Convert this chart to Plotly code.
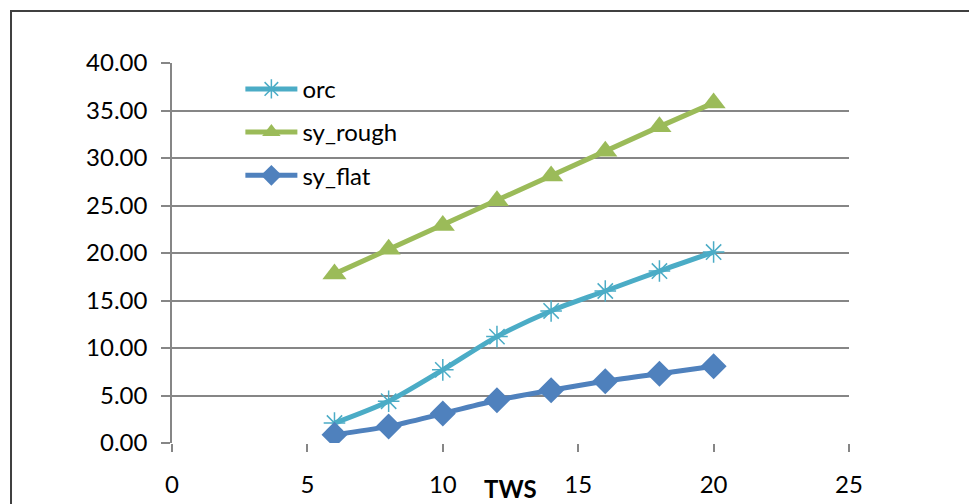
import plotly.graph_objects as go

tws = [6, 8, 10, 12, 14, 16, 18, 20]
orc = [2.1, 4.4, 7.7, 11.2, 13.9, 16.0, 18.1, 20.1]
sy_rough = [17.8, 20.4, 22.9, 25.5, 28.1, 30.7, 33.3, 35.8]
sy_flat = [0.87, 1.75, 3.1, 4.5, 5.55, 6.5, 7.3, 8.07]

x_ticks = [0, 5, 10, 15, 20, 25]
y_ticks = [0, 5, 10, 15, 20, 25, 30, 35, 40]
y_tick_labels = [f"{v:.2f}" for v in y_ticks]

FONT = "Lato, 'Open Sans', sans-serif"
GRID = "#868686"
FS = 24

fig = go.Figure()
fig.add_trace(go.Scatter(
    x=tws, y=orc, name="orc", mode="lines+markers", legendgroup="a",
    line=dict(color="#4BACC6", width=5, shape="spline", smoothing=0.8),
    marker=dict(symbol="asterisk", size=18, color="#4BACC6",
                line=dict(color="#4BACC6", width=1.5)),
))
fig.add_trace(go.Scatter(
    x=tws, y=sy_rough, name="sy_rough", mode="lines+markers", legendgroup="b",
    line=dict(color="#9BBB59", width=5),
    marker=dict(symbol="triangle-up", size=21, color="#9BBB59"),
))
fig.add_trace(go.Scatter(
    x=tws, y=sy_flat, name="sy_flat", mode="lines+markers", legendgroup="c",
    line=dict(color="#4F81BD", width=5, shape="spline", smoothing=0.8),
    marker=dict(symbol="diamond", size=20, color="#4F81BD"),
))

# page body adds an 8px offset; margins compensate so the plot area lands at x 172-849, y 63-443
fig.update_layout(
    width=977, height=504,
    margin=dict(l=164, r=136, t=55, b=69),
    paper_bgcolor="white", plot_bgcolor="white",
    font=dict(family=FONT, size=FS, color="#000000"),
    showlegend=True,
    legend=dict(
        x=0.101, y=0.99, xanchor="left", yanchor="top",
        bgcolor="rgba(0,0,0,0)", font=dict(size=FS, family=FONT),
        tracegroupgap=9, itemwidth=52,
    ),
    xaxis=dict(
        range=[0, 25], tickvals=x_ticks, ticktext=[str(v) for v in x_ticks],
        showgrid=False, zeroline=False,
        showline=False, ticks="outside", ticklen=8, tickcolor=GRID, tickwidth=1.5,
        ticklabelstandoff=12,
        tickfont=dict(size=FS, family=FONT),
    ),
    yaxis=dict(
        range=[0, 40], tickvals=y_ticks, ticktext=y_tick_labels,
        showgrid=True, gridcolor=GRID, gridwidth=1.5, zeroline=False,
        showline=True, linecolor=GRID, linewidth=1.5,
        ticks="outside", ticklen=9, tickcolor=GRID, tickwidth=1.5,
        ticklabelstandoff=9,
        tickfont=dict(size=FS, family=FONT),
    ),
    annotations=[dict(
        text="<b>TWS</b>", xref="paper", yref="paper", x=0.5, y=-0.121,
        xanchor="center", yanchor="middle", showarrow=False,
        font=dict(size=FS, family=FONT, color="#000000"),
    )],
    shapes=[dict(
        type="rect", xref="paper", yref="paper",
        x0=-0.2378, x1=1.4, y0=-0.4, y1=1.1368,
        line=dict(color="#404040", width=2), fillcolor="rgba(0,0,0,0)", layer="below",
    )],
)

fig.write_html("out.html")
